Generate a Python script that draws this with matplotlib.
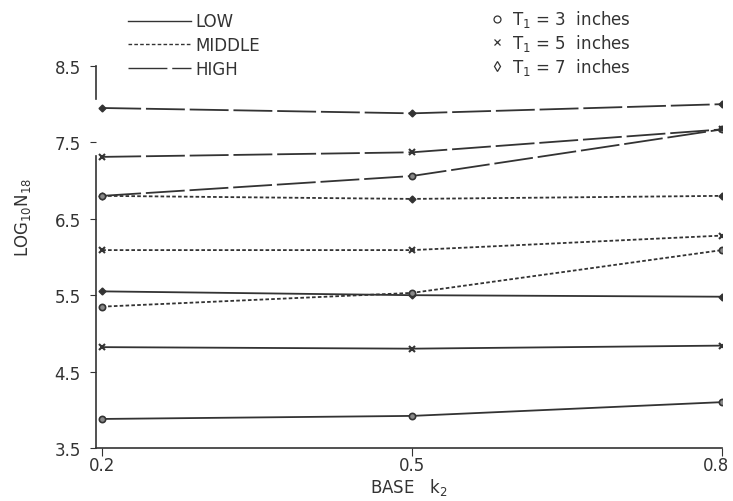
import matplotlib
matplotlib.use("Agg")
import matplotlib.pyplot as plt
import matplotlib.transforms as mtransforms
from matplotlib.lines import Line2D

plt.rcParams['font.family'] = ['DejaVu Sans']
plt.rcParams['mathtext.default'] = 'regular'
plt.rcParams['lines.scale_dashes'] = False

# datos
base_k2 = [0.2, 0.5, 0.8]

low_t3 = [3.88, 3.92, 4.10]
low_t5 = [4.82, 4.80, 4.84]
low_t7 = [5.55, 5.50, 5.48]

mid_t3 = [5.35, 5.53, 6.09]
mid_t5 = [6.09, 6.09, 6.28]
mid_t7 = [6.80, 6.76, 6.80]

high_t3 = [6.80, 7.06, 7.67]
high_t5 = [7.31, 7.37, 7.67]
high_t7 = [7.95, 7.88, 8.00]

y_ticks = [3.5, 4.5, 5.5, 6.5, 7.5, 8.5]
x_ticks = [0.2, 0.5, 0.8]

level_names = ['LOW', 'MIDDLE', 'HIGH']
t_labels = ['$T_1$ = 3  inches', '$T_1$ = 5  inches', '$T_1$ = 7  inches']

INK = '#333333'
LW = 1.3
styles = {
    'LOW': dict(linestyle='-'),
    'MIDDLE': dict(linestyle=(0, (2.6, 1.6))),
    'HIGH': dict(linestyle=(0, (28, 3.5))),
}
markers = [dict(marker='o', ms=4.5, mfc='#888888', mec=INK, mew=1.2),
           dict(marker='x', ms=4.5, mec=INK, mew=1.5),
           dict(marker='D', ms=3.5, mfc=INK, mec=INK, mew=1.0)]

fig = plt.figure(figsize=(7.33, 5.02), dpi=100)
ax = fig.add_axes([0.131, 0.1056, 0.854, 0.761])

series = [('LOW', [low_t3, low_t5, low_t7]),
          ('MIDDLE', [mid_t3, mid_t5, mid_t7]),
          ('HIGH', [high_t3, high_t5, high_t7])]
for name, ys in series:
    for vals, mk in zip(ys, markers):
        ax.plot(base_k2, vals, color=INK, lw=LW, **styles[name], **mk)

ax.set_xlim(0.194, 0.8)
ax.set_ylim(3.5, 8.5)
ax.set_xticks(x_ticks)
ax.set_xticklabels([f'{v:.1f}' for v in x_ticks])
ax.set_yticks(y_ticks)
ax.set_yticklabels([f'{v:.1f}' for v in y_ticks])

for s in ['top', 'right']:
    ax.spines[s].set_visible(False)
ax.spines['left'].set_color(INK)
ax.spines['bottom'].set_color(INK)
ax.spines['left'].set_linewidth(1.2)
ax.spines['bottom'].set_linewidth(1.2)
# el eje vertical tiene un hueco en el original
ax.spines['left'].set_bounds(3.5, 7.32)
ax.plot([0, 0], [8.07, 8.5], transform=ax.get_yaxis_transform(),
        color=INK, lw=1.2, clip_on=False)

ax.tick_params(axis='y', direction='out', length=4, width=0.8, colors=INK,
               labelsize=12, pad=7)
ax.tick_params(axis='x', direction='out', length=6, width=0.8, colors=INK,
               labelsize=12, pad=0)

# la etiqueta 0.8 queda al borde: la movemos un poco a la izquierda
last = ax.get_xticklabels()[-1]
last.set_transform(last.get_transform() +
                   mtransforms.ScaledTranslation(-6 / 100, 0, fig.dpi_scale_trans))

ax.set_xlabel('BASE   k$_2$', fontsize=12, color=INK, labelpad=1)
ax.set_ylabel('LOG$_{10}$N$_{18}$', fontsize=12, color=INK)
ax.yaxis.set_label_coords(-0.10, 0.605)

# leyenda de niveles
lvl_handles = [Line2D([], [], color=INK, lw=1.0, **styles[n]) for n in level_names]
leg1 = fig.legend(lvl_handles, level_names, loc='upper left',
                  bbox_to_anchor=(0.154, 1.003), frameon=False, fontsize=12,
                  handlelength=3.8, handletextpad=0.25, labelspacing=0.35,
                  labelcolor=INK)

# leyenda de espesores
t_handles = [Line2D([], [], linestyle='none', marker=m, color=INK,
                    ms=5, mfc='none', mew=0.9)
             for m in ['o', 'x', 'd']]
leg2 = fig.legend(t_handles, t_labels, loc='upper left',
                  bbox_to_anchor=(0.648, 1.011), frameon=False, fontsize=12,
                  handlelength=0.8, handletextpad=0.5, labelspacing=0.17,
                  labelcolor=INK)

fig.savefig('out.png', dpi=100)
